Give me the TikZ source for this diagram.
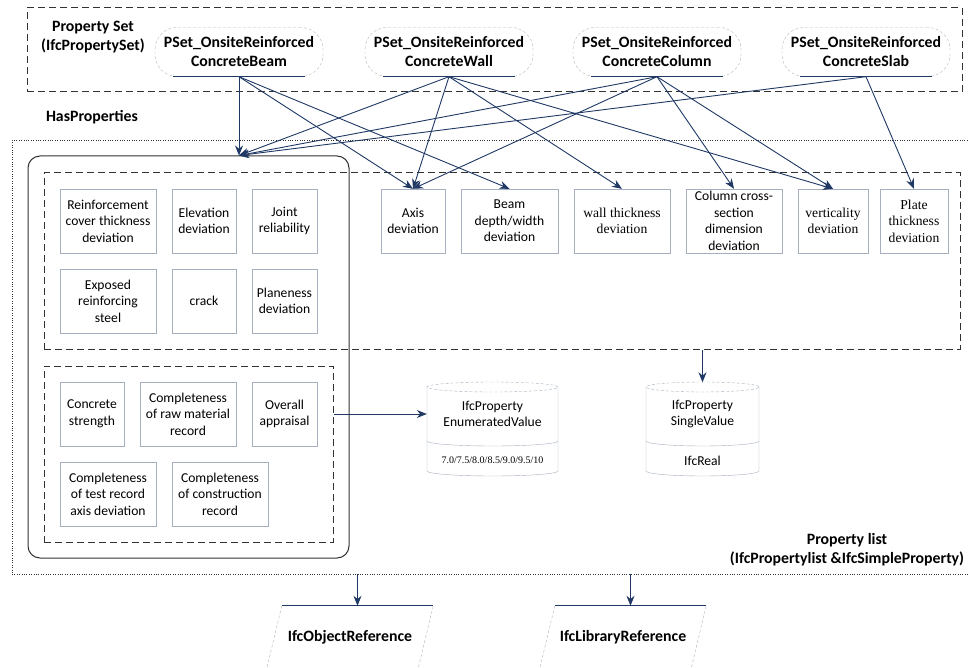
\documentclass[tikz,border=0pt]{standalone}
\usepackage{fontspec}
\setmainfont{Carlito}
\newfontfamily\timesfont{Liberation Serif}
\usetikzlibrary{arrows.meta,shadows,calc}

\definecolor{linknavy}{RGB}{31,56,100}
\definecolor{boxgray}{RGB}{165,175,190}
\definecolor{framegray}{RGB}{50,50,50}

\begin{document}
\begin{tikzpicture}[x=1pt,y=-1pt,>={Stealth[length=10pt,width=8pt]},
    item/.style={draw=boxgray,fill=white,minimum height=64,inner sep=1pt,align=center,
                 font=\fontsize{13.6}{16.5}\selectfont,
                 drop shadow={shadow xshift=1.2pt,shadow yshift=-1.2pt,opacity=.4,fill=boxgray}},
    serif/.style={font=\timesfont\fontsize{13.6}{16.5}\selectfont},
    pset/.style={draw=gray!55,densely dashed,rounded corners=22pt,minimum width=168,
                 minimum height=49,inner sep=0pt,align=center,font=\bfseries\fontsize{15.8}{19}\selectfont},
    label/.style={align=center,font=\bfseries\fontsize{15.8}{19}\selectfont},
    frame/.style={draw=framegray,dash pattern=on 7pt off 4pt,line width=1pt,inner sep=0pt},
    cyltext/.style={align=center,font=\fontsize{13.6}{16.5}\selectfont},
    link/.style={->,draw=linknavy,line width=0.9pt}]

  \useasboundingbox (0,0) rectangle (969,668);

  % frames
  \node[frame,minimum width=935,minimum height=84] (psetframe) at (494.5,50) {};
  \node[draw=framegray,dotted,minimum width=959,minimum height=434,inner sep=0pt] (plist) at (491.5,357) {};
  \node[draw=framegray,line width=1pt,rounded corners=12pt,minimum width=321,minimum height=402,inner sep=0pt] (group) at (188.5,357) {};
  \node[frame,minimum width=916,minimum height=176] (grp1) at (502,261) {};
  \node[frame,minimum width=289,minimum height=176] (grp2) at (188.5,454) {};

  % property sets
  \node[label] (psetlabel) at (93,37) {Property Set\\(IfcPropertySet)};
  \node[pset] (beamset) at (239,52) {PSet\_OnsiteReinforced\\ConcreteBeam};
  \node[pset] (wallset) at (449,52) {PSet\_OnsiteReinforced\\ConcreteWall};
  \node[pset] (colset) at (657,52) {PSet\_OnsiteReinforced\\ConcreteColumn};
  \node[pset] (slabset) at (866,52) {PSet\_OnsiteReinforced\\ConcreteSlab};
  \foreach \n in {beamset,wallset,colset,slabset}
    \draw[linknavy,line width=.8pt] ([xshift=18pt]\n.south west) -- ([xshift=-18pt]\n.south east);

  \node[label] (hasprop) at (92,117) {HasProperties};
  \node[label] (plistlabel) at (847,550) {Property list\\(IfcPropertylist \&IfcSimpleProperty)};

  % properties
  \node[item,minimum width=96] (rcover) at (108,221) {Reinforcement\\cover thickness\\deviation};
  \node[item,minimum width=64] (elev) at (204,221) {Elevation\\deviation};
  \node[item,minimum width=65] (joint) at (284.5,221) {Joint\\reliability};
  \node[item,minimum width=96] (exposed) at (108,301) {Exposed\\reinforcing\\steel};
  \node[item,minimum width=64] (crack) at (204,301) {crack};
  \node[item,minimum width=65] (plane) at (284.5,301) {Planeness\\deviation};

  \node[item,minimum width=64] (axis) at (413,221) {Axis\\deviation};
  \node[item,minimum width=97] (beamdev) at (509.5,221) {Beam\\depth/width\\deviation};
  \node[item,serif,minimum width=96] (walldev) at (622,221) {wall thickness\\deviation};
  \node[item,minimum width=96] (coldev) at (734,221) {Column cross-\\section\\dimension\\deviation};
  \node[item,serif,minimum width=70] (vertdev) at (833,221) {verticality\\deviation};
  \node[item,serif,minimum width=68] (platedev) at (914,221) {Plate\\thickness\\deviation};

  \node[item,minimum width=64] (cstrength) at (92,414) {Concrete\\strength};
  \node[item,minimum width=96] (craw) at (188,414) {Completeness\\of raw material\\record};
  \node[item,minimum width=65] (overall) at (284.5,414) {Overall\\appraisal};
  \node[item,minimum width=96] (ctest) at (108,494) {Completeness\\of test record\\axis deviation};
  \node[item,minimum width=96] (ccons) at (220,494) {Completeness\\of construction\\record};

  % value cylinders
  \node[minimum width=131,minimum height=94,inner sep=0pt] (enum) at (492.5,429.5) {};
  \node[minimum width=113,minimum height=94,inner sep=0pt] (single) at (702.5,429.5) {};
  \foreach \xa/\xb in {427/558,646/759}{
    \pgfmathsetmacro\r{(\xb-\xa)/2}
    \draw[boxgray,densely dashed] ({(\xa+\xb)/2},387) ellipse [x radius=\r pt,y radius=5pt];
    \draw[boxgray] (\xa,387) -- (\xa,471) arc[start angle=180,end angle=360,x radius=\r pt,y radius=5pt] -- (\xb,387);
    \draw[boxgray] (\xa,441) arc[start angle=180,end angle=360,x radius=\r pt,y radius=5pt];
  }
  \node[cyltext] (enumtxt) at (492.5,414) {IfcProperty\\EnumeratedValue};
  \node[font=\timesfont\fontsize{10}{12}\selectfont] (enumval) at (492.5,460) {7.0/7.5/8.0/8.5/9.0/9.5/10};
  \node[cyltext] (singletxt) at (702.5,414) {IfcProperty\\SingleValue};
  \node[cyltext] (singleval) at (702.5,461) {IfcReal};

  % references
  \node[minimum width=151,minimum height=62,inner sep=0pt,font=\bfseries\fontsize{15.8}{19}\selectfont] (objref) at (350,637) {IfcObjectReference};
  \node[minimum width=151,minimum height=62,inner sep=0pt,font=\bfseries\fontsize{15.8}{19}\selectfont] (libref) at (623,637) {IfcLibraryReference};
  \foreach \n in {objref,libref}{
    \draw[linknavy,line width=.8pt] ([xshift=7.5pt]\n.north west) -- ([xshift=7.5pt]\n.north east);
    \draw[gray!60,densely dashed] ([xshift=7.5pt]\n.north west) -- ([xshift=-7.5pt]\n.south west);
    \draw[gray!60,densely dashed] ([xshift=7.5pt]\n.north east) -- ([xshift=-7.5pt]\n.south east);
  }
  \coordinate (objtop) at ([xshift=7.5pt]objref.north);
  \coordinate (libtop) at ([xshift=7.5pt]libref.north);
  \coordinate (grouptop) at (group.north -| beamset.south);

  % links
  \foreach \s/\t in {beamset/grouptop,beamset/axis,beamset/beamdev,
                     wallset/grouptop,wallset/axis,wallset/walldev,wallset/vertdev,
                     colset/grouptop,colset/axis,colset/coldev,colset/vertdev,
                     slabset/grouptop,slabset/platedev}
    \draw[link] (\s.south) -- (\t.north);
  \draw[link] (grp2.east |- enumtxt) -- (enum.west |- enumtxt);
  \draw[link] (grp1.south -| single) -- (single.north);
  \draw[link] (plist.south -| objtop) -- (objtop);
  \draw[link] (plist.south -| libtop) -- (libtop);
\end{tikzpicture}
\end{document}
